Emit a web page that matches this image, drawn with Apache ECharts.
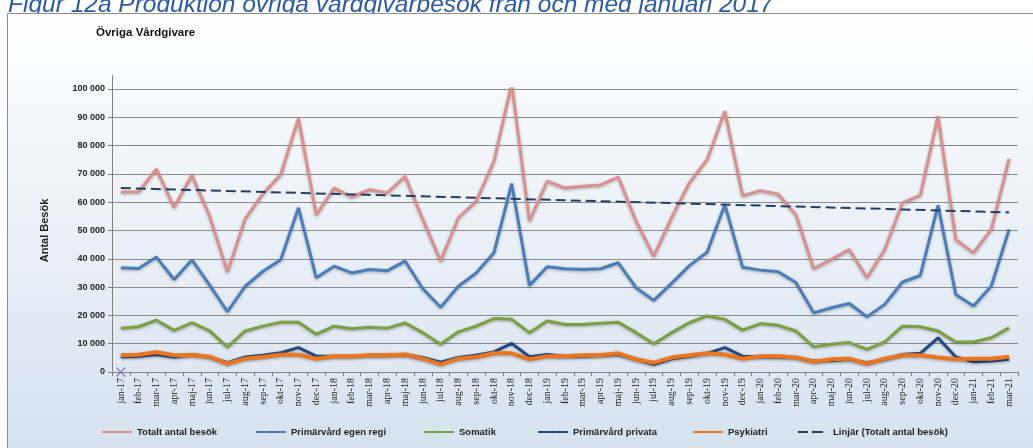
<!DOCTYPE html>
<html>
<head>
<meta charset="utf-8">
<script src="https://cdn.jsdelivr.net/npm/echarts@6/dist/echarts.min.js"></script>
<style>
  html, body { margin: 0; padding: 0; background: #fff; }
  #chart { width: 1033px; height: 448px; }
</style>
</head>
<body>
<div id="chart"></div>
<script>
const months = [
  'jan-17','feb-17','mar-17','apr-17','maj-17','jun-17','jul-17','aug-17','sep-17','okt-17','nov-17','dec-17',
  'jan-18','feb-18','mar-18','apr-18','maj-18','jun-18','jul-18','aug-18','sep-18','okt-18','nov-18','dec-18',
  'jan-19','feb-19','mar-19','apr-19','maj-19','jun-19','jul-19','aug-19','sep-19','okt-19','nov-19','dec-19',
  'jan-20','feb-20','mar-20','apr-20','maj-20','jun-20','jul-20','aug-20','sep-20','okt-20','nov-20','dec-20',
  'jan-21','feb-21','mar-21'
];

const totalt = [
  63600, 63700, 71700, 58200, 69500, 55000, 35300, 54100, 63000, 69800, 89600, 55500,
  65000, 61900, 64400, 63300, 69100, 53900, 39200, 54500, 60300, 74400, 101800, 53300,
  67400, 65000, 65600, 66100, 68900, 53300, 40900, 54500, 66800, 75000, 92100, 62300,
  64100, 62800, 55600, 36500, 39800, 43300, 33300, 43300, 59800, 62400, 90400, 46800,
  42100, 50400, 75300
];

const egenRegi = [
  36800, 36600, 40600, 32700, 39600, 30700, 21300, 30300, 35600, 39700, 58000, 33300,
  37400, 35000, 36200, 35800, 39200, 29400, 22900, 30300, 35000, 42100, 66600, 30600,
  37200, 36500, 36200, 36500, 38600, 29800, 25300, 31300, 37600, 42300, 59100, 37000,
  36000, 35400, 31600, 20900, 22700, 24200, 19500, 23900, 31800, 34100, 58900, 27400,
  23300, 30400, 50400
];

const somatik = [
  15500, 16000, 18300, 14700, 17400, 14500, 8800, 14500, 16200, 17600, 17600, 13300,
  16200, 15300, 15800, 15500, 17300, 13900, 9800, 14200, 16200, 18900, 18600, 13900,
  18000, 16800, 16800, 17200, 17600, 13900, 10000, 13900, 17400, 19800, 18600, 14800,
  17100, 16500, 14500, 8900, 9800, 10400, 8000, 10600, 16200, 16000, 14500, 10600,
  10600, 12100, 15600
];

const privata = [
  5400, 5600, 6200, 5300, 6200, 5300, 3300, 5300, 5900, 6800, 8600, 5600,
  5600, 5600, 5900, 5900, 6200, 5100, 3500, 5100, 5900, 7100, 10100, 5400,
  6200, 5600, 5600, 5900, 6200, 4500, 2700, 4700, 5600, 6600, 8600, 5600,
  5400, 5300, 5100, 3900, 4100, 4500, 3300, 4500, 6200, 6600, 12100, 5300,
  3600, 3900, 4500
];

const psykiatri = [
  5900, 6100, 7000, 5900, 6000, 5400, 2900, 4700, 5300, 6100, 6100, 4700,
  5600, 5600, 5900, 5900, 6200, 4700, 2700, 4700, 5300, 6600, 6600, 4500,
  5600, 5600, 5900, 5900, 6600, 4500, 3300, 5100, 5900, 6600, 6200, 4700,
  5600, 5600, 5100, 3600, 4500, 4700, 2900, 4700, 5900, 5900, 5100, 4500,
  4700, 4700, 5400
];

// trendline endpoints (first and last month)
const trendEnds = [65000, 56400];
const markerValues = [0];

const legendNames = [
  'Totalt antal besök', 'Primärvård egen regi', 'Somatik',
  'Primärvård privata', 'Psykiatri', 'Linjär (Totalt antal besök)'
];
const legendLeft = [101, 255, 423, 537, 692, 797];

const fmt = v => String(v).replace(/\B(?=(\d{3})+(?!\d))/g, ' ');

const shadow = { shadowColor: 'rgba(0,0,0,0.3)', shadowBlur: 3, shadowOffsetY: 1 };

function lineSeries(name, data, color, width) {
  return {
    name: name,
    type: 'line',
    data: data,
    symbol: 'none',
    smooth: false,
    color: color,
    lineStyle: Object.assign({ color: color, width: width }, shadow)
  };
}

const chart = echarts.init(document.getElementById('chart'));
chart.setOption({
  animation: false,
  backgroundColor: '#ffffff',
  textStyle: { fontFamily: 'Liberation Sans, Arial, sans-serif' },
  graphic: [
    {
      type: 'text', left: 8, top: -7, z: -20,
      style: {
        text: 'Figur 12a Produktion övriga vårdgivarbesök från och med januari 2017',
        font: 'italic 24.5px "Liberation Sans", Arial, sans-serif',
        fill: '#2a5aa3'
      }
    },
    {
      type: 'rect', z: -10,
      shape: { x: 7.5, y: 13.5, width: 1040, height: 450 },
      style: {
        fill: new echarts.graphic.LinearGradient(0, 0, 0, 1, [
          { offset: 0, color: '#ffffff' },
          { offset: 1, color: '#d5e1ef' }
        ]),
        stroke: '#8e8e8e',
        lineWidth: 1
      }
    },
    {
      type: 'text', left: 96, top: 27,
      style: {
        text: 'Övriga Vårdgivare',
        font: 'bold 11.5px "Liberation Sans", Arial, sans-serif',
        fill: '#111'
      }
    },
    {
      type: 'line',
      shape: { x1: 112.5, y1: 75, x2: 112.5, y2: 89 },
      style: { stroke: '#808080', lineWidth: 1 }
    }
  ],
  legend: legendNames.map((n, i) => ({
    data: [n],
    left: legendLeft[i],
    top: 427,
    padding: 0,
    itemWidth: 30,
    itemHeight: 3,
    itemGap: 4,
    textStyle: { fontSize: 9.5, fontWeight: 'bold', color: '#222' }
  })),
  grid: { left: 112, right: 15, top: 89, bottom: 76 },
  xAxis: {
    type: 'category',
    data: months,
    boundaryGap: true,
    axisLine: { lineStyle: { color: '#808080' } },
    axisTick: { show: true, interval: 0, length: 4, lineStyle: { color: '#808080' } },
    axisLabel: {
      interval: 0, rotate: 90, margin: 6,
      fontSize: 10, color: '#222',
      fontFamily: 'Liberation Serif, Times New Roman, serif'
    },
    splitLine: { show: false }
  },
  yAxis: {
    type: 'value',
    min: 0, max: 100000, interval: 10000,
    name: 'Antal Besök',
    nameLocation: 'middle',
    nameRotate: 90,
    nameGap: 62,
    nameTextStyle: { fontSize: 11, fontWeight: 'bold', color: '#222' },
    axisLine: { show: true, lineStyle: { color: '#808080' } },
    axisTick: { show: true, length: 4, lineStyle: { color: '#808080' } },
    axisLabel: { formatter: fmt, fontSize: 9, fontWeight: 'bold', color: '#222', margin: 7 },
    splitLine: { show: true, lineStyle: { color: '#8a8a8a', width: 1 } }
  },
  series: [
    lineSeries(legendNames[0], totalt, '#d9918f', 3),
    lineSeries(legendNames[1], egenRegi, '#4a7dba', 3),
    lineSeries(legendNames[2], somatik, '#7ba043', 3),
    lineSeries(legendNames[3], privata, '#214a80', 3),
    lineSeries(legendNames[4], psykiatri, '#ec7620', 4),
    {
      name: legendNames[5],
      type: 'line',
      data: [[0, trendEnds[0]], [months.length - 1, trendEnds[1]]],
      symbol: 'none',
      color: '#243f60',
      lineStyle: { color: '#243f60', width: 2, type: [10, 5] },
      z: 3
    },
    {
      type: 'scatter',
      data: markerValues.map((v, i) => [i, v]),
      symbol: 'path://M0,0L10,10M10,0L0,10',
      symbolSize: 9,
      clip: false,
      itemStyle: { color: 'rgba(0,0,0,0)', borderColor: '#8468b0', borderWidth: 1.5 },
      z: 4
    }
  ]
});
</script>
</body>
</html>
